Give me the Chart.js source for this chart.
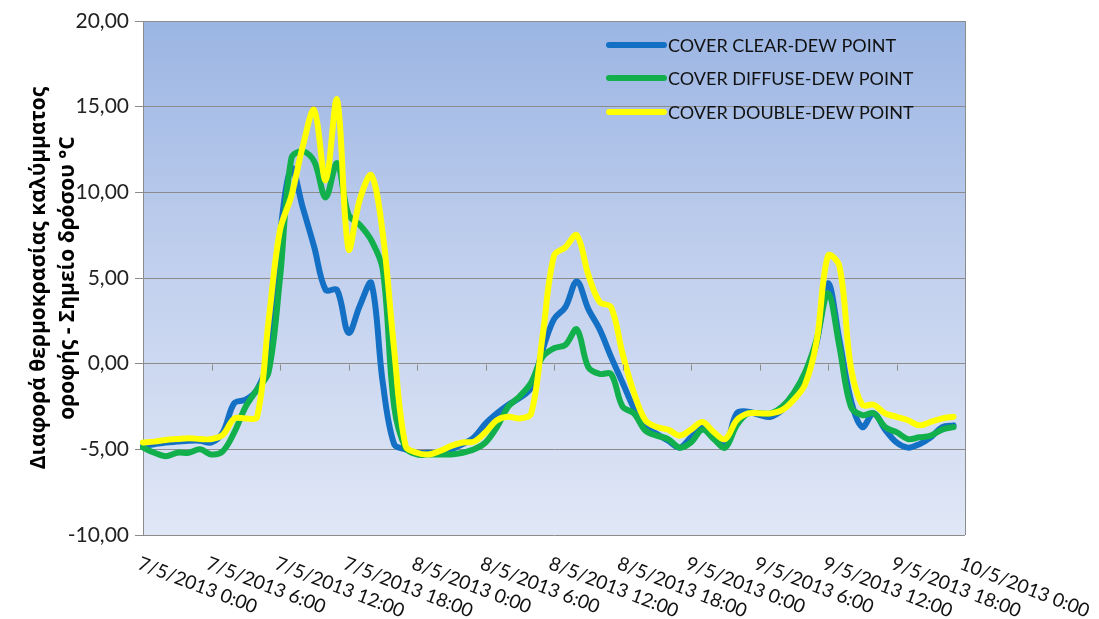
<!DOCTYPE html>
<html>
<head>
<meta charset="utf-8">
<script src="https://cdn.jsdelivr.net/npm/chart.js@4"></script>
<style>
  body { margin: 0; background: #fff; }
  #wrap { width: 1099px; height: 619px; }
</style>
</head>
<body>
<div id="wrap"><canvas id="dew"></canvas></div>
<script>
// hourly readings, 7/5/2013 0:00 .. 9/5/2013 23:00
const days = ['7/5/2013', '8/5/2013', '9/5/2013'];
const tickLabels = ['7/5/2013 0:00', '7/5/2013 6:00', '7/5/2013 12:00', '7/5/2013 18:00',
  '8/5/2013 0:00', '8/5/2013 6:00', '8/5/2013 12:00', '8/5/2013 18:00',
  '9/5/2013 0:00', '9/5/2013 6:00', '9/5/2013 12:00', '9/5/2013 18:00', '10/5/2013 0:00'];

const clearDew = [
  -4.8, -4.7, -4.6, -4.55, -4.5, -4.5, -4.6, -4.0, -2.3, -2.1, -1.5, 0.3,
  7.5, 11.4, 9.1, 6.8, 4.3, 4.3, 1.8, 3.4, 4.7, -1.1, -4.7, -5.0,
  -5.2, -5.2, -5.2, -5.0, -4.7, -4.3, -3.5, -2.9, -2.4, -2.0, -1.4, 0.8,
  2.6, 3.3, 4.8, 3.2, 2.0, 0.4, -1.1, -2.6, -3.7, -4.1, -4.5, -4.9,
  -4.3, -3.7, -4.2, -4.8, -2.9, -2.8, -3.0, -3.1, -2.7, -2.0, -0.9, 1.2,
  4.7, 1.4, -2.1, -3.7, -2.9, -3.85, -4.6, -4.9, -4.7, -4.3, -3.7, -3.6
];
const diffuseDew = [
  -4.9, -5.2, -5.4, -5.2, -5.2, -5.0, -5.3, -5.1, -4.0, -2.5, -1.5, -0.5,
  5.0, 12.0, 12.4, 11.8, 9.7, 11.7, 8.7, 8.1, 7.2, 5.5, -2.5, -4.9,
  -5.3, -5.3, -5.3, -5.3, -5.2, -5.0, -4.6, -3.7, -2.5, -1.9, -1.1, 0.4,
  0.9, 1.1, 2.0, -0.2, -0.6, -0.6, -2.5, -2.9, -3.9, -4.2, -4.4, -4.9,
  -4.6, -3.85, -4.4, -4.9, -3.6, -2.9, -2.9, -2.9, -2.5, -1.7, -0.5, 1.4,
  4.1, 1.0, -2.5, -3.0, -2.9, -3.7, -4.0, -4.4, -4.3, -4.2, -3.85, -3.7
];
const doubleDew = [
  -4.6, -4.55, -4.45, -4.4, -4.35, -4.4, -4.4, -4.15, -3.2, -3.2, -3.1, 2.5,
  7.8, 9.8, 12.7, 14.8, 10.7, 15.4, 6.7, 9.6, 11.0, 7.6, 0.8, -4.8,
  -5.2, -5.3, -5.1, -4.8, -4.6, -4.55, -4.0, -3.3, -3.1, -3.2, -2.9, 1.6,
  6.3, 6.8, 7.5, 5.2, 3.6, 3.3, 0.6, -1.7, -3.3, -3.7, -3.85, -4.2,
  -3.85, -3.4, -4.0, -4.4, -3.3, -2.9, -2.9, -2.9, -2.7, -2.1, -1.2, 1.3,
  6.3, 5.7, -0.2, -2.4, -2.4, -2.9, -3.1, -3.3, -3.6, -3.4, -3.2, -3.1
];

const labels = [];
days.forEach(d => { for (let h = 0; h < 24; h++) labels.push(d + ' ' + h + ':00'); });
labels.push('10/5/2013 0:00');

const plotBg = {
  id: 'plotBg',
  beforeDraw(chart) {
    const { ctx, chartArea: a } = chart;
    const g = ctx.createLinearGradient(0, a.top, 0, a.bottom);
    g.addColorStop(0, '#9bb5e3');
    g.addColorStop(0.5, '#c3d1ee');
    g.addColorStop(1, '#e0e7f6');
    ctx.save();
    ctx.fillStyle = g;
    ctx.fillRect(a.left, a.top, a.right - a.left, a.bottom - a.top);
    ctx.restore();
  },
  afterDraw(chart) {
    const { ctx, chartArea: a } = chart;
    const xs = chart.scales.x, ys = chart.scales.y;
    ctx.save();
    // right border
    ctx.strokeStyle = '#8c8c8c';
    ctx.lineWidth = 1;
    ctx.beginPath();
    ctx.moveTo(a.right + 0.5, a.top);
    ctx.lineTo(a.right + 0.5, a.bottom);
    ctx.stroke();
    // category ticks sit on the zero line
    const y0 = Math.round(ys.getPixelForValue(0)) + 0.5;
    ctx.beginPath();
    tickLabels.forEach((t, i) => {
      const x = Math.round(xs.getPixelForValue(i * 6)) + 0.5;
      ctx.moveTo(x, y0);
      ctx.lineTo(x, y0 + 6);
    });
    ctx.stroke();
    // slanted date labels
    ctx.fillStyle = '#111';
    ctx.font = '19px Lato';
    ctx.textAlign = 'left';
    ctx.textBaseline = 'top';
    tickLabels.forEach((t, i) => {
      const x = xs.getPixelForValue(i * 6);
      ctx.save();
      ctx.translate(x - 1, a.bottom + 19);
      ctx.rotate(21 * Math.PI / 180);
      ctx.fillText(t, 0, 0);
      ctx.restore();
    });
    // legend inside the plot
    const rows = [45, 78, 112];
    ctx.font = '18px Lato';
    ctx.textBaseline = 'middle';
    chart.data.datasets.forEach((ds, i) => {
      ctx.strokeStyle = ds.borderColor;
      ctx.lineWidth = 6;
      ctx.lineCap = 'round';
      ctx.beginPath();
      ctx.moveTo(609, rows[i]);
      ctx.lineTo(664, rows[i]);
      ctx.stroke();
      ctx.fillStyle = '#111';
      ctx.fillText(ds.label, 668, rows[i] + 1);
    });
    ctx.restore();
  }
};

new Chart(document.getElementById('dew'), {
  type: 'line',
  data: {
    labels: labels,
    datasets: [
      { label: 'COVER CLEAR-DEW POINT', data: clearDew, borderColor: '#1470c4', order: 3 },
      { label: 'COVER DIFFUSE-DEW POINT', data: diffuseDew, borderColor: '#12b04c', order: 2 },
      { label: 'COVER DOUBLE-DEW POINT', data: doubleDew, borderColor: '#ffff00', order: 1 }
    ]
  },
  options: {
    responsive: true,
    maintainAspectRatio: false,
    animation: false,
    layout: { padding: { left: 0, top: 21, right: 134, bottom: 84 } },
    elements: {
      line: { borderWidth: 6, tension: 0.35, borderCapStyle: 'round', borderJoinStyle: 'round' },
      point: { radius: 0 }
    },
    plugins: {
      legend: { display: false },
      tooltip: { enabled: false }
    },
    scales: {
      x: {
        type: 'category',
        offset: false,
        grid: { display: false },
        border: { display: false },
        ticks: { display: false },
        afterFit(s) { s.height = 0; }
      },
      y: {
        min: -10,
        max: 20,
        ticks: {
          stepSize: 5,
          color: '#222',
          padding: 6,
          font: { family: 'Lato', size: 21 },
          callback: v => v.toFixed(2).replace('.', ',')
        },
        grid: { color: '#8c8c8c', tickLength: 8, lineWidth: 1 },
        border: { color: '#8c8c8c' },
        title: {
          display: true,
          text: ['Διαφορά θερμοκρασίας καλύμματος', 'οροφής - Σημείο δρόσου °C'],
          color: '#000',
          font: { family: 'Open Sans', size: 21, weight: 'bold', lineHeight: 1.4 },
          padding: { top: 24, bottom: 0 }
        },
        afterFit(s) { s.width = 143; }
      }
    }
  },
  plugins: [plotBg]
});
</script>
</body>
</html>
